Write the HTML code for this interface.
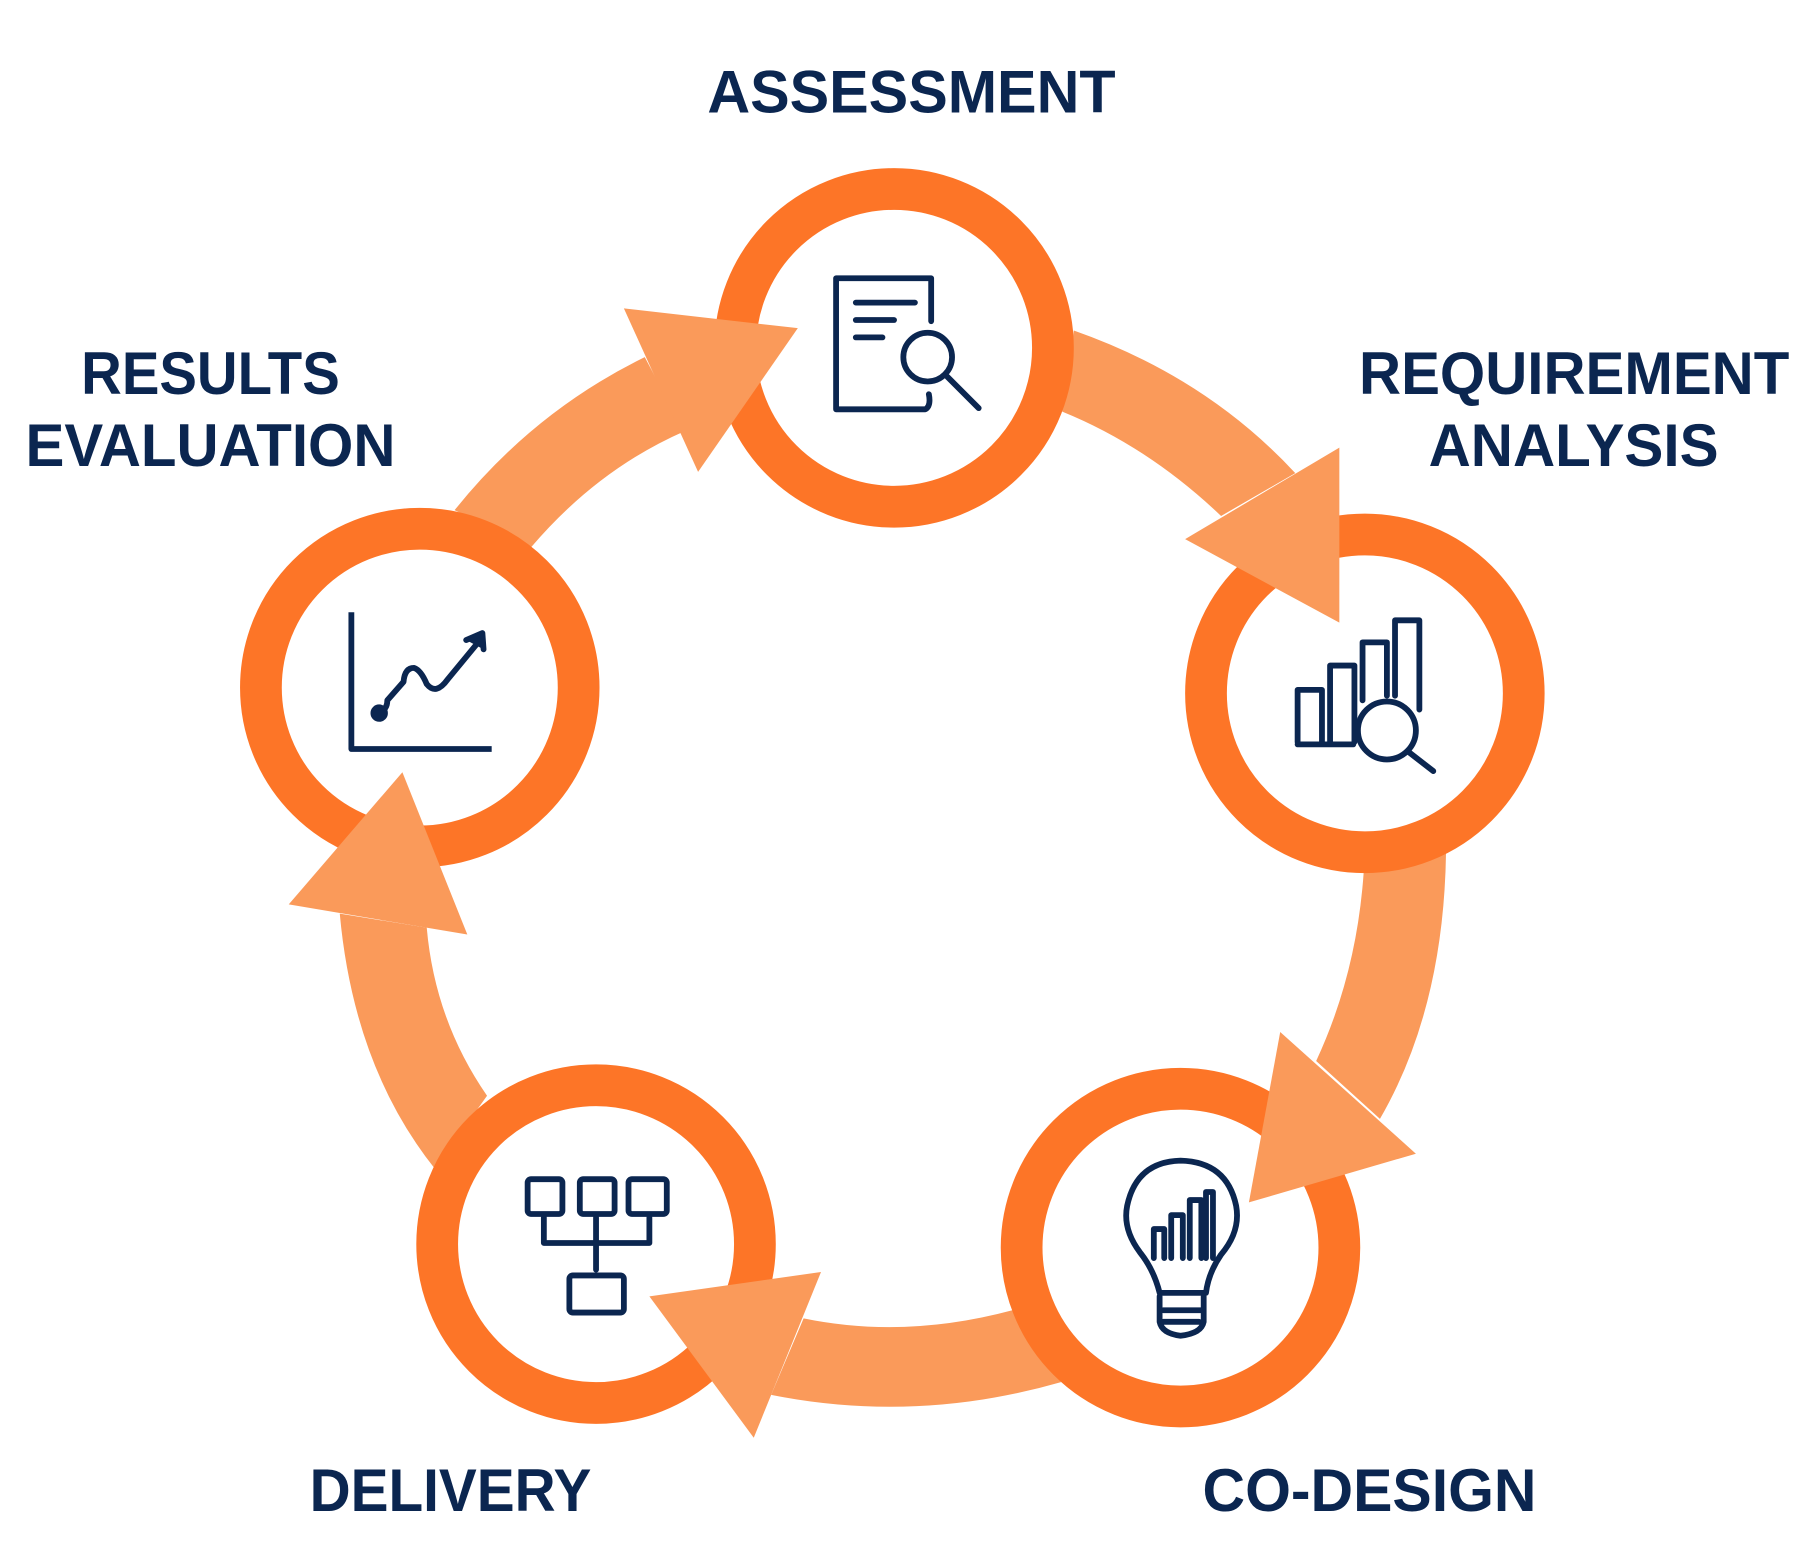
<!DOCTYPE html>
<html><head><meta charset="utf-8"><style>
html,body{margin:0;padding:0;background:#fff;}
svg{display:block;}
text{font-family:"Liberation Sans",sans-serif;font-weight:bold;fill:#0B2650;}
</style></head><body>
<svg width="1809" height="1563" viewBox="0 0 1560 1348" preserveAspectRatio="none" xmlns="http://www.w3.org/2000/svg">
<g fill="#FA9A5A">
<path d="M392,440 Q460,355 556,308 L590,372 Q515,405 458,472 Z"/>
<path d="M926,285 Q1040,325 1117,408 L1053,445 Q990,385 916,355 Z"/>
<path d="M1247,735 Q1245,870 1190,965 L1135,915 Q1170,840 1176,752 Z"/>
<path d="M873,1130 Q780,1155 693,1137 L665,1203 Q790,1228 915,1192 Z"/>
<path d="M420,945 Q375,880 368,800 L293,788 Q305,920 375,1008 Z"/>
</g>
<g fill="#fff" stroke="#FD7527" stroke-width="36">
<circle cx="771" cy="300" r="137"/>
<circle cx="1177" cy="598" r="137"/>
<circle cx="1018" cy="1076" r="137"/>
<circle cx="514" cy="1073" r="137"/>
<circle cx="362" cy="593" r="137"/>
</g>
<g fill="#FA9A5A">
<polygon points="538,266 688,283 602,407"/>
<polygon points="1155,386 1155,537 1022,465"/>
<polygon points="1104,890 1221,995 1077,1037"/>
<polygon points="708,1097 650,1240 560,1118"/>
<polygon points="403,806 249,780 347,666"/>
</g>
<g fill="none" stroke="#0B2650" stroke-width="5" stroke-linecap="round" stroke-linejoin="round">
<path d="M803,277 V240 H721 V353 H798 Q803,350 801,340"/>
<path d="M738,261 H789 M738,276 H771 M738,291 H761"/>
<circle cx="800" cy="308" r="21"/>
<path d="M817,325 L844,352"/>
<path d="M1119,640 V595 H1140 V640 M1147,640 V574 H1168 V640 M1175,604 V554 H1196 V600 M1203,600 V535 H1224 V612"/>
<path d="M1119,642 H1167"/>
<circle cx="1196" cy="630" r="25"/>
<path d="M1214,648 L1236,665"/>
<path d="M1000,1115 Q995,1095 983,1080 Q968,1060 972,1040 Q980,1002 1018,1001 Q1058,1002 1066,1040 Q1070,1062 1053,1082 Q1042,1098 1040,1115 Z"/>
<path d="M1000,1118 V1140 Q1002,1150 1018,1152 Q1036,1150 1038,1140 V1118 M1003,1130 H1036 M1003,1140 H1034"/>
<path d="M995,1085 V1060 H1004 V1085 M1010,1085 V1048 H1020 V1085 M1026,1085 V1035 H1036 V1085 M1040,1085 V1028 H1046 V1085"/>
<rect x="455" y="1017" width="30" height="30" rx="3"/>
<rect x="500" y="1017" width="30" height="30" rx="3"/>
<rect x="542" y="1017" width="33" height="30" rx="3"/>
<path d="M469,1050 V1072 H560 V1050 M514,1050 V1095"/>
<rect x="491" y="1100" width="47" height="32" rx="3"/>
<path d="M303,528 V646 H424" stroke-width="5" stroke-linecap="butt"/>
<path d="M327,614 Q334,612 334,604 L348,588 Q349,576 357,576 Q363,578 368,590 Q376,600 386,586 L414,552"/>
<circle cx="327" cy="615" r="5" fill="#0B2650"/>
<path d="M402,552 L416,546 L417,560" fill="#0B2650"/>
</g>
<g font-size="52" lengthAdjust="spacingAndGlyphs">
<text x="610" y="97" textLength="352" lengthAdjust="spacingAndGlyphs">ASSESSMENT</text>
<text x="70" y="340" textLength="223" lengthAdjust="spacingAndGlyphs">RESULTS</text>
<text x="22" y="402" textLength="319" lengthAdjust="spacingAndGlyphs">EVALUATION</text>
<text x="1172" y="340" textLength="371" lengthAdjust="spacingAndGlyphs">REQUIREMENT</text>
<text x="1232" y="402" textLength="250" lengthAdjust="spacingAndGlyphs">ANALYSIS</text>
<text x="267" y="1303" textLength="243" lengthAdjust="spacingAndGlyphs">DELIVERY</text>
<text x="1037" y="1303" textLength="288" lengthAdjust="spacingAndGlyphs">CO-DESIGN</text>
</g>
</svg>
</body></html>
